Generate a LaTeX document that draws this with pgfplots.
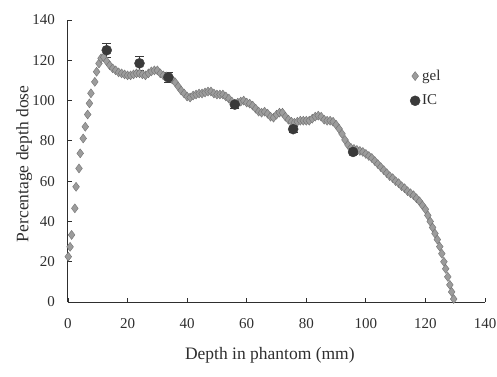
\documentclass[border=0pt]{standalone}
\usepackage{pgfplots}
\pgfplotsset{compat=1.18}
\usepackage{fontspec}
\setmainfont{Liberation Serif}
\definecolor{txt}{HTML}{2E2E2E}
\definecolor{gelfill}{HTML}{9C9C9C}
\definecolor{geldraw}{HTML}{727272}
\definecolor{icfill}{HTML}{3A3A3A}
\begin{document}
\begin{tikzpicture}
\useasboundingbox (-68pt,-74pt) rectangle (429pt,302pt);
\begin{axis}[
  scale only axis, width=417pt, height=282pt,
  xmin=0, xmax=140, ymin=0, ymax=140,
  xtick={0,20,...,140}, ytick={0,20,...,140},
  axis x line=bottom, axis y line=left,
  axis line style={-, color=txt, line width=1pt},
  tick align=inside, major tick length=4pt,
  tick style={color=txt, line width=0.9pt},
  clip=false,
  /pgf/number format/assume math mode=true,
  tick label style={font=\fontsize{15}{17}\selectfont, text=txt},
  xticklabel style={anchor=center, yshift=-22pt},
  yticklabel style={anchor=east, inner sep=0pt, xshift=-13pt},
  xlabel={Depth in phantom (mm)},
  ylabel={Percentage depth dose},
  label style={font=\fontsize{17.5}{20}\selectfont, text=txt},
  xlabel style={at={(axis description cs:0.484,0)}, anchor=center, yshift=-53pt},
  ylabel style={at={(axis description cs:-0.105,0.49)}, anchor=center},
  legend style={draw=none, fill=none, at={(axis description cs:0.82,0.83)}, anchor=north west,
    font=\fontsize{15}{17}\selectfont, text=txt, row sep=9pt, inner sep=0pt},
  legend cell align=left,
  legend image code/.code={\draw[#1] plot coordinates {(0.15cm,0cm)};},
]
\addplot[only marks, mark=diamond*, mark size=4.5pt,
  mark options={fill=gelfill, draw=geldraw, line width=0.4pt}] table {
x y
0.1 22.5
0.7 27.4
1.2 33.3
2.3 46.5
2.7 57.2
3.7 66.3
4.1 73.8
5.1 81.2
5.8 87.0
6.6 93.1
7.2 98.6
7.7 103.6
9.0 109.3
9.6 114.3
10.4 118.4
11.1 121.0
12 121.5
13 119.5
14 117.5
15 116
16 115
17 114
18 113.5
19 113
20 112.5
21 112.5
22 113
23 113.5
24 113.5
25 113
26 112.5
27 113.5
28 114.5
29 115
30 115
31 113.5
32 112.5
33 112
34 111.5
35 110.5
36 109
37 107
38 105
39 103.5
40 102
41 101.5
42 102.5
43 103
44 103.5
45 103.5
46 104
47 104.5
48 104.5
49 103.5
50 103
51 103
52 103
53 102
54 101
55 99.5
56 98.5
57 99
58 99.5
59 100
60 99
61 98.5
62 97.5
63 96
64 94.5
65 94
66 94.5
67 93.5
68 92
69 91.5
70 93
71 94
72 94
73 92
74 90.5
75 89.5
76 89
77 89.5
78 90
79 90
80 90
81 90
82 91
83 92
84 92.5
85 92
86 90.5
87 90
88 90
89 89.5
90 88
91 86
92 83.5
93 80.5
94 78
95 76.5
96 76
97 75.5
98 75
99 74.5
100 73.5
101 72.5
102 71.5
103 70
104 68.5
105 67
106 65.5
107 64
108 62.5
109 61.5
110 60
111 59
112 57.5
113 56.5
114 55
115 54
116 53
117 51.5
118 50
119 48
120 46
120.8 43
121.6 40
122.4 37
123.2 34
124.0 31
124.8 27.5
125.5 24
126.2 20
126.8 16.5
127.5 12.5
128.2 8.5
128.8 5
129.5 1.5
};
\addlegendentry{gel}
\addplot[only marks, mark=*, mark size=5pt, color=icfill,
  mark options={fill=icfill, draw=icfill},
  error bars/.cd, y dir=both, y explicit,
  error bar style={color=icfill, line width=1pt},
  error mark options={rotate=90, mark size=4.5pt, line width=1pt, color=icfill}]
  coordinates {
  (13,125) +- (0,3.5)
  (24,118.5) +- (0,3.5)
  (33.7,111.5) +- (0,2.5)
  (56,98) +- (0,2)
  (75.6,85.8) +- (0,1.5)
  (95.7,74.5) +- (0,1.5)
};
\addlegendentry{IC}
\end{axis}
\end{tikzpicture}
\end{document}
